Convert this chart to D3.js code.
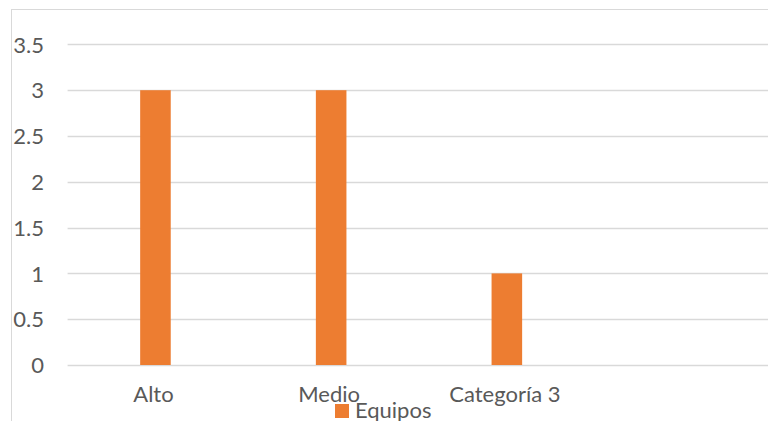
<!DOCTYPE html>
<html><head><meta charset="utf-8">
<script src="https://cdn.jsdelivr.net/npm/d3@7"></script>
<style>html,body{margin:0;padding:0;background:#fff;overflow:hidden}</style>
</head><body>
<svg id="c" width="768" height="421"></svg>
<script>
const categories = ["Alto", "Medio", "Categoría 3", ""];
const values = [3, 3, 1, null];
const yTicks = [0, 0.5, 1, 1.5, 2, 2.5, 3, 3.5];
const seriesName = "Equipos";

const svg = d3.select("#c");
const font = "Lato, 'Open Sans', sans-serif";
const textColor = "#595959";
const fs = 22;

// chart area border
svg.append("rect").attr("x", 11.5).attr("y", 9.5).attr("width", 800).attr("height", 500)
  .attr("fill", "none").attr("stroke", "#D9D9D9").attr("stroke-width", 1);

const x = d3.scaleBand().domain(categories).range([67.6, 770.4]).paddingInner(0.826).paddingOuter(0.413);
const y = d3.scaleLinear().domain([0, 3.5]).range([365, 44.4]);

// gridlines
svg.append("g").selectAll("line").data(yTicks).join("line")
  .attr("x1", 67.6).attr("x2", 770.4)
  .attr("y1", d => Math.round(y(d)) + 0.5).attr("y2", d => Math.round(y(d)) + 0.5)
  .attr("stroke", "#D9D9D9").attr("stroke-width", 1.3);

// y axis labels
const yAxis = d3.axisLeft(y).tickValues(yTicks).tickSize(0).tickPadding(0).tickFormat(d => String(d));
const gy = svg.append("g").attr("transform", "translate(44,0)").call(yAxis);
gy.select(".domain").remove();
gy.selectAll("text").attr("font-family", font).attr("font-size", fs).attr("fill", textColor).attr("dy", "0.35em");

// bars
svg.append("g").selectAll("rect").data(categories.map((c, i) => ({c, v: values[i]})).filter(d => d.v != null))
  .join("rect")
  .attr("x", d => x(d.c)).attr("width", x.bandwidth())
  .attr("y", d => y(d.v)).attr("height", d => y(0) - y(d.v))
  .attr("fill", "#ED7D31");

// x axis labels
const xAxis = d3.axisBottom(x).tickSize(0).tickPadding(0);
const gx = svg.append("g").attr("transform", "translate(-2,402)").call(xAxis);
gx.select(".domain").remove();
gx.selectAll("text").attr("font-family", font).attr("font-size", fs).attr("fill", textColor).attr("dy", 0).attr("y", 0);

// legend
const lg = svg.append("g").attr("transform", "translate(335,404)");
lg.append("rect").attr("width", 14).attr("height", 14).attr("fill", "#ED7D31");
lg.append("text").attr("x", 20).attr("y", 13.5).text(seriesName)
  .attr("font-family", font).attr("font-size", fs).attr("fill", textColor);
</script>
</body></html>
